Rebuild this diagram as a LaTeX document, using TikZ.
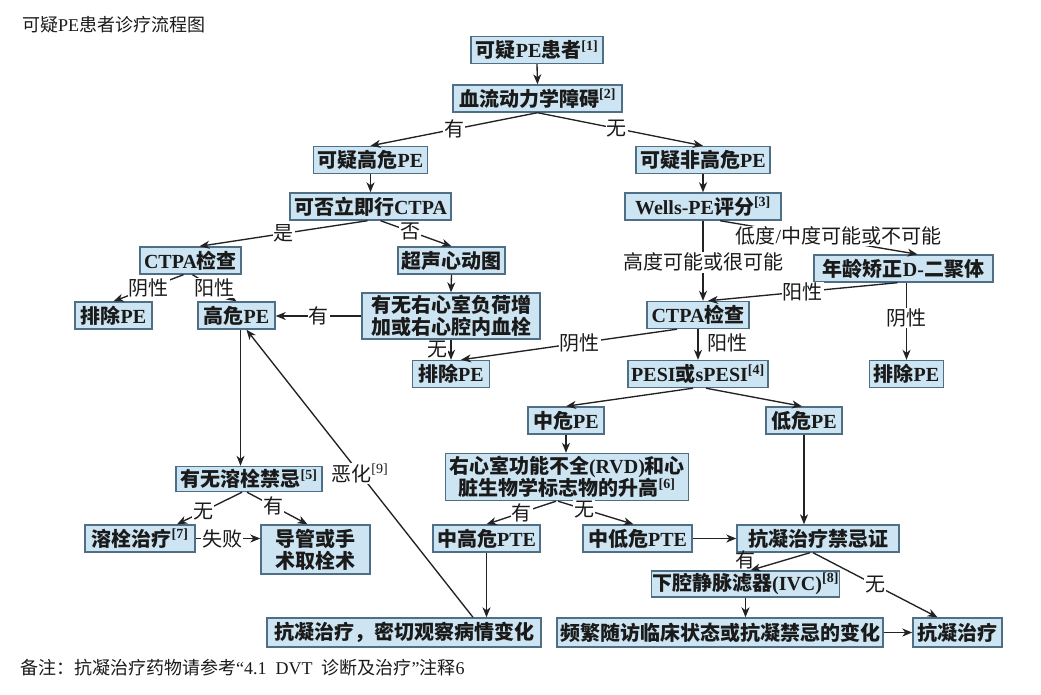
\documentclass[tikz,border=0pt]{standalone}
\usepackage{fontspec}
\setmainfont{Liberation Serif}
\newfontfamily\cjk{Noto Sans CJK SC}
\newfontfamily\latinfont{Liberation Serif}
\usetikzlibrary{arrows.meta,calc}
\newcommand\lt[1]{{\latinfont #1}}
\newcommand\rf[1]{\textsuperscript{\latinfont[#1]}}
\definecolor{boxfill}{HTML}{CDE5F2}
\definecolor{boxline}{HTML}{4F6F86}
\definecolor{lncol}{HTML}{222222}
\definecolor{txt}{HTML}{1A1A1A}
\tikzset{
  box/.style={draw=boxline, line width=1.4pt, fill=boxfill, inner sep=0pt,
    minimum height=27pt, align=center, text=txt,
    font=\cjk\bfseries\fontsize{20}{22}\selectfont},
  lbl/.style={font=\cjk\fontsize{20}{22}\selectfont, fill=white, inner sep=1pt, text=txt},
  arr/.style={draw=lncol, line width=1.35pt, -{Stealth[length=10pt,width=8pt,inset=3pt]}},
  plain/.style={font=\cjk\fontsize{18}{20}\selectfont, text=txt, inner sep=0pt}
}
\begin{document}
\begin{tikzpicture}[x=1pt,y=-1pt]
\useasboundingbox (0,0) rectangle (1041,694);
\node[plain, anchor=west] (title) at (22,25) {可疑\lt{PE}患者诊疗流程图};
\node[plain, anchor=west] (note) at (20,668) {备注：抗凝治疗药物请参考\lt{“4.1\ \ DVT\ \ }诊断及治疗\lt{”}注释\lt{6}};

\node[box, minimum width=132pt] (b1) at (537,50) {可疑\lt{PE}患者\rf{1}};
\node[box, minimum width=169pt] (b2) at (537.5,98.5) {血流动力学障碍\rf{2}};
\node[box, minimum width=114pt] (b3) at (370.5,160) {可疑高危\lt{PE}};
\node[box, minimum width=134pt] (b4) at (703,160) {可疑非高危\lt{PE}};
\node[box, minimum width=161pt] (b5) at (370.5,206.5) {可否立即行\lt{CTPA}};
\node[box, minimum width=156pt] (b6) at (703,206.5) {\lt{Wells-PE}评分\rf{3}};
\node[box, minimum width=101pt] (b7) at (190.5,260.5) {\lt{CTPA}检查};
\node[box, minimum width=107pt] (b8) at (451.5,260.5) {超声心动图};
\node[box, minimum width=77pt] (b9) at (113.5,315.5) {排除\lt{PE}};
\node[box, minimum width=77pt] (b10) at (236.5,315.5) {高危\lt{PE}};
\node[box, minimum width=178pt, minimum height=46pt] (b11) at (451,316) {有无右心室负荷增\\加或右心腔内血栓};
\node[box, minimum width=77pt] (b12) at (451,374) {排除\lt{PE}};
\node[box, minimum width=179pt] (b13) at (903.5,268.5) {年龄矫正\lt{D-}二聚体};
\node[box, minimum width=102pt] (b14) at (698,315) {\lt{CTPA}检查};
\node[box, minimum width=74pt] (b15) at (906.5,374) {排除\lt{PE}};
\node[box, minimum width=140pt] (b16) at (698,374) {\lt{PESI}或\lt{sPESI}\rf{4}};
\node[box, minimum width=76pt] (b17) at (566,420.5) {中危\lt{PE}};
\node[box, minimum width=76pt] (b18) at (804,420.5) {低危\lt{PE}};
\node[box, minimum width=243pt, minimum height=47pt] (b19) at (567,477) {右心室功能不全\lt{(RVD)}和心\\脏生物学标志物的升高\rf{6}};
\node[box, minimum width=107pt] (b20) at (486.5,538.5) {中高危\lt{PTE}};
\node[box, minimum width=109pt] (b21) at (637.5,538.5) {中低危\lt{PTE}};
\node[box, minimum width=162pt] (b22) at (818,538.5) {抗凝治疗禁忌证};
\node[box, minimum width=188pt, minimum height=26pt] (b23) at (745.5,584) {下腔静脉滤器\lt{(IVC)}\rf{8}};
\node[box, minimum width=326pt, minimum height=29pt] (b24) at (720,632.5) {频繁随访临床状态或抗凝禁忌的变化};
\node[box, minimum width=89pt, minimum height=29pt] (b25) at (957.5,632.5) {抗凝治疗};
\node[box, minimum width=274pt, minimum height=29pt] (b26) at (404,632.5) {抗凝治疗，密切观察病情变化};
\node[box, minimum width=146pt, minimum height=25pt] (b27) at (249,479) {有无溶栓禁忌\rf{5}};
\node[box, minimum width=110pt] (b28) at (140,538.5) {溶栓治疗\rf{7}};
\node[box, minimum width=109pt, minimum height=49pt] (b29) at (315.5,549.5) {导管或手\\术取栓术};

\draw[arr] (b1.south) -- (b2.north);
\draw[arr] (b2.south) -- node[lbl]{有} (b3.north);
\draw[arr] (b2.south) -- node[lbl,pos=0.48]{无} (b4.north);
\draw[arr] (b3.south) -- (b5.north);
\draw[arr] (b4.south) -- (b6.north);
\draw[arr] ([xshift=-3pt]b5.south) -- node[lbl]{是} ([xshift=9pt]b7.north);
\draw[arr] ([xshift=10pt]b5.south) -- node[lbl,pos=0.42]{否} (b8.north);
\draw[arr] ([xshift=-7pt]b7.south) -- node[lbl]{阴性} (b9.north);
\draw[arr] ([xshift=2pt]b7.south) -- node[lbl]{阳性} (b10.north);
\draw[arr] (b8.south) -- (b11.north);
\draw[arr] (b11.west) -- node[lbl]{有} (b11.west -| b10.east);
\draw[arr] (b11.south) -- node[lbl,pos=0.5,left=2pt]{无} (b12.north);
\draw[arr] ([xshift=-21pt]b14.south) -- node[lbl,pos=0.45]{阴性} ([xshift=10pt]b12.north);
\draw[arr] (b6.south) -- node[lbl,pos=0.52]{高度可能或很可能} (b6.south |- b14.north);
\draw[arr] ([xshift=17pt]b6.south) -- node[lbl,pos=0.6,yshift=5pt]{低度\lt{/}中度可能或不可能} ([xshift=14pt]b13.north);
\draw[arr] ([xshift=-6pt]b13.south) -- node[lbl]{阳性} ([xshift=10pt]b14.north);
\draw[arr] (b13.south -| b15.north) -- node[lbl,pos=0.46]{阴性} (b15.north);
\draw[arr] (b14.south) -- node[lbl,pos=0.45,right=8pt]{阳性} (b16.north);
\draw[arr] ([xshift=-5pt]b16.south) -- (b17.north);
\draw[arr] ([xshift=8pt]b16.south) -- ([xshift=-2pt]b18.north);
\draw[arr] (b17.south) -- (b17.south |- b19.north);
\draw[arr] (b18.south) -- (b18.south |- b22.north);
\draw[arr] ([xshift=-11pt]b19.south) -- node[lbl,pos=0.49]{有} (b20.north);
\draw[arr] ([xshift=-9pt]b19.south) -- node[lbl,pos=0.35]{无} ([xshift=-4pt]b21.north);
\draw[arr] (b20.south) -- (b20.south |- b26.north);
\draw[arr] (b21.east) -- (b22.west);
\draw[arr] ([xshift=-8pt]b22.south) -- node[lbl,fill=none,pos=0.85,xshift=-14pt,yshift=8pt]{有} ([xshift=5pt]b23.north);
\draw[arr] ([xshift=-5pt]b22.south) -- node[lbl,pos=0.5]{无} ([xshift=-20pt]b25.north);
\draw[arr] (b23.south) -- (b23.south |- b24.north);
\draw[arr] (b24.east) -- (b25.west);
\draw[arr] ([xshift=69pt]b26.north) -- node[lbl,pos=0.5]{恶化\rf{9}} ([xshift=10pt]b10.south);
\draw[arr] ([xshift=4pt]b10.south) -- ([xshift=4pt]b10.south |- b27.north);
\draw[arr] ([xshift=-7pt]b27.south) -- node[lbl,pos=0.6]{无} ([xshift=37pt]b28.north);
\draw[arr] ([xshift=-2pt]b27.south) -- node[lbl,pos=0.43]{有} ([xshift=-8pt]b29.north);
\draw[arr] (b28.east) -- node[lbl,pos=0.41]{失败} (b28.east -| b29.west);
\end{tikzpicture}
\end{document}
